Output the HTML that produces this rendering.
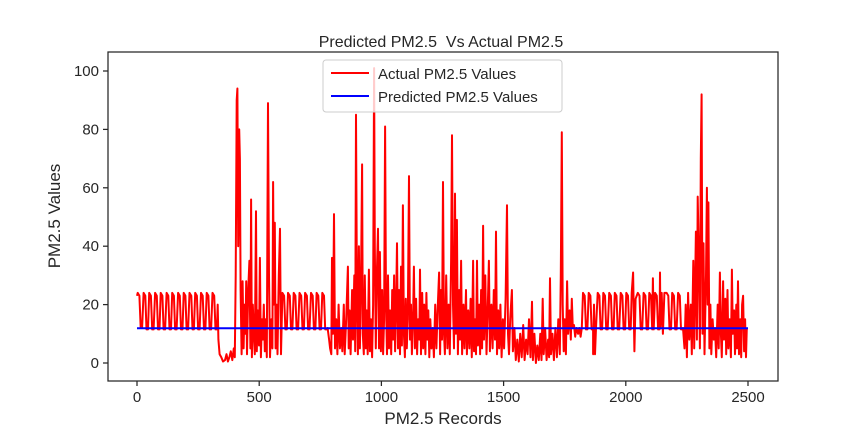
<!DOCTYPE html>
<html><head><meta charset="utf-8"><style>
body{margin:0;background:#fff;}
svg text{font-family:"Liberation Sans","DejaVu Sans",sans-serif;fill:#262626;}
</style></head><body>
<svg id="chart" width="864" height="432" xmlns="http://www.w3.org/2000/svg">
<rect width="864" height="432" fill="#fff"/>
<text x="441" y="47" font-size="16" text-anchor="middle" style="white-space:pre">Predicted PM2.5  Vs Actual PM2.5</text>
<text x="443" y="424" font-size="17" text-anchor="middle">PM2.5 Records</text>
<text x="0" y="0" font-size="17" text-anchor="middle" transform="translate(60,216) rotate(-90)">PM2.5 Values</text>
<g id="ticks"></g>
<g id="plot"></g>
<rect x="108" y="52" width="670" height="329" fill="none" stroke="#262626" stroke-width="1.25"/>
<g>
<rect x="323" y="60" width="239" height="52" rx="3" fill="#fff" fill-opacity="0.8" stroke="#ccc" stroke-width="1"/>
<g><line x1="331" y1="73" x2="369" y2="73" stroke="red" stroke-width="2"/><text x="378" y="79" font-size="15">Actual PM2.5 Values</text></g>
<g><line x1="331" y1="96" x2="369" y2="96" stroke="blue" stroke-width="2"/><text x="378" y="102" font-size="15">Predicted PM2.5 Values</text></g>
</g>
</svg>
<script>
const xTicks=[0,500,1000,1500,2000,2500];
const yTicks=[0,20,40,60,80,100];
const predictedValue=[11.9,11.9];
const predictedRecs=[0,2500];
const cycleStarts=[0,24,47,71,94,118,141,165,188,212,235,259,282,306,592,615,638,662,685,709,732,755,1822,1845,1882,1905,1929,1952,1976,1999,2046,2070,2093,2117,2164,2187,2211];
const cycleHigh=[24,24,24,24,24,24,24,24,24,24,24,24,24,24,24,24,24,24,24,24,24,24,24,24,24,24,24,24,24,24,24,24,24,24,24,24,24];
const cycleLow=[12,11.5,11.5,11.5,11.5,11.5,11.5,11.5,11.5,11.5,11.5,11.5,11.5,11.5,11.5,11.5,11.5,11.5,11.5,11.5,11.5,11.5,11.5,11.5,11.5,11.5,11.5,11.5,11.5,11.5,11.5,11.5,11.5,11.5,11.5,11.5,11.5];
const noisyRecs=[330,333,338,345,352,360,366,372,378,384,390,396,400,404,408,411,414,418,421,424,428,432,436,440,444,447,450,455,460,464,467,470,474,478,482,487,490,494,499,503,507,511,515,519,523,527,531,536,540,544,550,554,557,560,564,567,571,575,580,585,589,
780,786,790,795,798,802,806,810,815,820,825,830,836,840,846,850,856,863,866,870,874,880,884,889,893,896,900,904,908,912,916,921,924,928,932,936,940,944,949,953,957,962,966,970,973,977,981,986,990,994,998,1003,1007,1011,1015,1019,1023,1027,1031,1035,1040,1044,1048,1052,1056,1060,1064,1068,1072,1076,1080,1084,1088,1092,1096,1100,1104,1108,1113,1117,1121,1125,1130,1133,1137,1142,1146,1150,1155,1158,1162,1167,1171,1175,1180,1184,1188,1192,1196,1200,1205,1210,1215,1220,1225,1230,1236,1240,1244,1248,1252,1256,1260,1265,1270,1275,1280,1285,1289,1293,1297,1301,1305,1309,1313,1318,1322,1326,1330,1336,1340,1346,1350,1355,1360,1365,1370,1375,1379,1383,1387,1391,1395,1400,1404,1408,1412,1416,1420,1425,1430,1435,1440,1444,1450,1455,1460,1465,1469,1473,1478,1482,1487,1492,1497,1502,1508,1514,1518,1522,1527,1534,1538,1544,1550,1556,1562,1568,1574,1580,1586,1592,1598,1604,1610,1616,1620,1626,1632,1638,1644,1650,1655,1660,1664,1670,1676,1682,1686,1690,1694,1700,1706,1712,1718,1724,1730,1734,1738,1742,1746,1750,1755,1760,1764,1770,1775,1779,1783,1788,1793,1798,1805,1810,1815,1820,
1866,1870,1874,1878,2024,2030,2035,2040,2111,2140,2142,2147,2152,2158,
2234,2240,2245,2250,2255,2260,2266,2270,2276,2280,2287,2291,2294,2298,2303,2307,2310,2314,2318,2322,2328,2332,2335,2338,2342,2346,2350,2355,2360,2365,2370,2376,2380,2385,2389,2393,2398,2402,2407,2411,2416,2420,2425,2430,2434,2438,2443,2447,2452,2455,2459,2463,2468,2472,2476,2480,2484,2488,2492,2495];
const noisyVals=[20,8,3,2,0.5,1,3,0.5,2,4,1,5,2,30,90,94,40,80,70,25,3,28,5,20,10,28,3,25,35,5,56,2,20,10,3,52,4,18,6,36,2,15,8,20,4,15,2,89,30,2,15,5,62,20,48,5,20,3,30,46,3,
12,8,5,3,36,10,51,5,15,3,20,5,12,4,20,3,15,33,5,18,3,25,8,30,4,85,20,3,40,5,25,68,10,3,30,5,18,3,32,4,15,2,20,101,40,5,30,46,5,38,4,25,3,15,81,20,3,30,5,18,3,25,8,30,4,20,41,5,25,3,33,6,54,10,2,22,5,15,64,8,20,3,18,33,5,22,3,15,8,32,3,24,5,20,3,24,8,18,2,15,5,12,2,20,5,18,31,3,25,8,62,10,3,30,5,20,3,35,78,20,5,58,10,49,3,25,8,35,3,20,5,25,3,18,5,22,2,35,4,15,3,35,6,20,3,25,5,47,8,30,3,18,35,4,20,5,25,8,45,3,18,5,20,2,15,5,22,54,10,3,15,25,4,12,1,8,0.5,10,2,13,1,8,3,15,2,21,1,10,0,6,1,10,1,22,3,12,1,8,2,29,3,10,1,12,2,15,3,30,79,20,4,15,3,28,10,18,8,22,12,13,9,12,10,12,9,12,
3,20,3,12,24,31,4,22,29,31,12,24,10,24,
12,5,20,2,24,8,20,3,35,5,45,8,57,40,5,70,92,10,41,3,30,60,20,55,5,20,3,15,8,12,2,20,5,31,10,2,28,8,22,3,25,5,15,2,32,10,18,3,20,5,28,3,15,2,20,23,4,15,2,12];

const NS='http://www.w3.org/2000/svg';
const X0=137,X1=748,Y0=363,Y100=71;
function xScale(r){return X0+(X1-X0)*r/2500;}
function yScale(v){return Y0-(Y0-Y100)*v/100;}
const ticks=document.getElementById('ticks');
const plot=document.getElementById('plot');
xTicks.forEach(t=>{
  const l=document.createElementNS(NS,'line');
  l.setAttribute('x1',xScale(t));l.setAttribute('x2',xScale(t));l.setAttribute('y1',381);l.setAttribute('y2',386);
  l.setAttribute('stroke','#262626');l.setAttribute('stroke-width','1.25');
  
  
  ticks.appendChild(l);
  const tx=document.createElementNS(NS,'text');
  tx.setAttribute('x',xScale(t));tx.setAttribute('y',402);tx.setAttribute('font-size','15');tx.setAttribute('text-anchor','middle');
  tx.textContent=t;
  
  
  ticks.appendChild(tx);
});
yTicks.forEach(t=>{
  const l=document.createElementNS(NS,'line');
  l.setAttribute('x1',103);l.setAttribute('x2',108);l.setAttribute('y1',yScale(t));l.setAttribute('y2',yScale(t));
  l.setAttribute('stroke','#262626');l.setAttribute('stroke-width','1.25');
  
  
  ticks.appendChild(l);
  const tx=document.createElementNS(NS,'text');
  tx.setAttribute('x',99);tx.setAttribute('y',yScale(t)+5);tx.setAttribute('font-size','15');tx.setAttribute('text-anchor','end');
  tx.textContent=t;
  
  
  ticks.appendChild(tx);
});
let pts=[];
cycleStarts.forEach((s,i)=>{
  pts.push([s+3,cycleHigh[i]],[s+10,cycleHigh[i]-1],[s+15,cycleLow[i]],[s+21,cycleLow[i]]);
});
noisyRecs.forEach((r,i)=>pts.push([r,noisyVals[i]]));
pts.sort((a,b)=>a[0]-b[0]);
pts.unshift([0,23]);
const actual=document.createElementNS(NS,'polyline');
actual.setAttribute('points',pts.map(p=>xScale(p[0]).toFixed(1)+','+yScale(p[1]).toFixed(1)).join(' '));
actual.setAttribute('fill','none');actual.setAttribute('stroke','red');actual.setAttribute('stroke-width','2');actual.setAttribute('stroke-linejoin','round');


plot.appendChild(actual);
const pred=document.createElementNS(NS,'polyline');
pred.setAttribute('points',predictedRecs.map((r,i)=>xScale(r)+','+yScale(predictedValue[i])).join(' '));
pred.setAttribute('fill','none');pred.setAttribute('stroke','blue');pred.setAttribute('stroke-width','2');


plot.appendChild(pred);
</script>
</body></html>
